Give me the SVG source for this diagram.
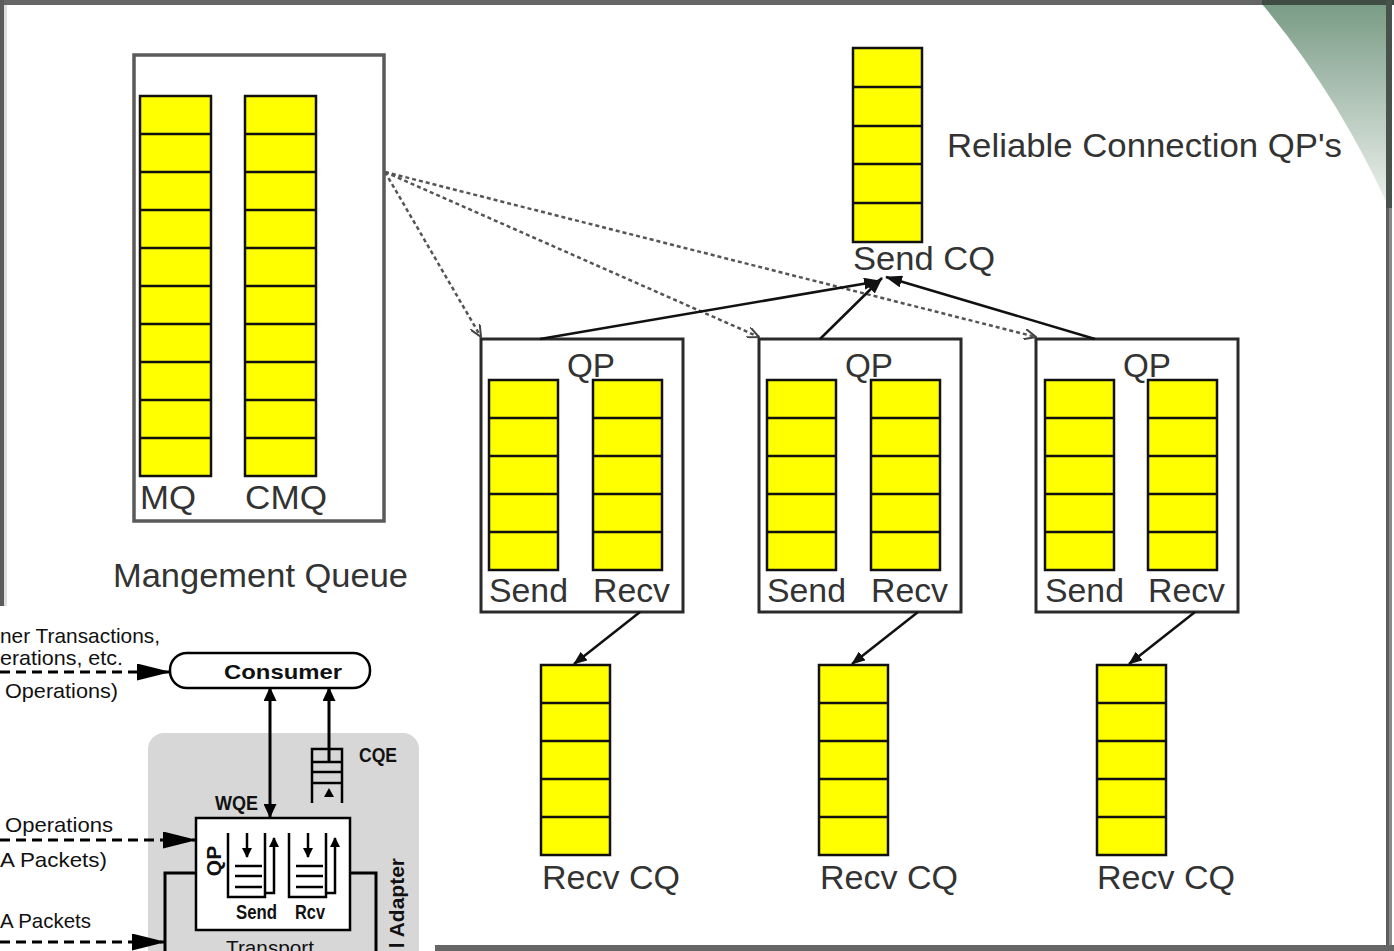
<svg xmlns="http://www.w3.org/2000/svg" width="1394" height="951" viewBox="0 0 1394 951">
<defs>
<style>
.q{fill:#ffff00;stroke:#111;stroke-width:2.5}
.sep{stroke:#111;stroke-width:2.5;fill:none}
.box{fill:#fff;stroke:#2a2a2a;stroke-width:3}
.mbox{fill:#fff;stroke:#5a5a5a;stroke-width:3.5}
.t{font-family:"Liberation Sans",Arial,Helvetica,sans-serif;font-size:34px;fill:#333}
.dash{stroke:#555;stroke-width:2.5;stroke-dasharray:4 3;fill:none}
.solid{stroke:#111;stroke-width:2.5;fill:none}
.it{font-family:"Liberation Sans",Arial,Helvetica,sans-serif;font-size:21px;fill:#111}
.ib{font-weight:bold}
.idash{stroke:#000;stroke-width:3;stroke-dasharray:10 6;fill:none}
.iline{stroke:#000;stroke-width:3;fill:none}
.ithin{stroke:#000;stroke-width:2.5;fill:none}
</style>
<linearGradient id="corner" x1="0" y1="0" x2="0" y2="1">
<stop offset="0" stop-color="#7a9c86"/>
<stop offset="1" stop-color="#eef2ef"/>
</linearGradient>
<marker id="ah" markerUnits="userSpaceOnUse" markerWidth="18" markerHeight="12" refX="16" refY="6" orient="auto"><path d="M0,0 L17,6 L0,12 z" fill="#111"/></marker>
<marker id="ad" markerUnits="userSpaceOnUse" markerWidth="13" markerHeight="11" refX="12" refY="5.5" orient="auto"><path d="M0,0 L12,5.5 L0,11" fill="none" stroke="#444" stroke-width="2"/></marker>
<marker id="ar" markerUnits="userSpaceOnUse" markerWidth="14" markerHeight="11" refX="13" refY="5.5" orient="auto"><path d="M0,0 L14,5.5 L0,11 z" fill="#111"/></marker>
<marker id="big" markerUnits="userSpaceOnUse" markerWidth="34" markerHeight="17" refX="33" refY="8.5" orient="auto"><path d="M0,0 L34,8.5 L0,17 z" fill="#000"/></marker>
<marker id="va" markerUnits="userSpaceOnUse" markerWidth="14" markerHeight="13" refX="13" refY="6.5" orient="auto-start-reverse"><path d="M0,0 L14,6.5 L0,13 z" fill="#000"/></marker>
<marker id="sa" markerUnits="userSpaceOnUse" markerWidth="10" markerHeight="10" refX="9" refY="5" orient="auto"><path d="M0,0 L10,5 L0,10 z" fill="#000"/></marker>
</defs>

<rect x="0" y="0" width="1394" height="951" fill="#fff"/>

<!-- corner decoration -->
<path d="M1262,4 Q1338,95 1389,208 L1389,4 Z" fill="url(#corner)"/>

<!-- frame -->
<rect x="0" y="0" width="1394" height="5" fill="#666"/>
<rect x="1262" y="0" width="132" height="5" fill="#3f4c44"/>
<rect x="0" y="0" width="4" height="606" fill="#5c5c5c"/>
<rect x="4" y="5" width="3" height="601" fill="#dedede"/>
<rect x="1386" y="0" width="6" height="951" fill="#8a8a8a"/>
<rect x="1386" y="0" width="3" height="951" fill="#5e5e5e"/>
<rect x="1386" y="0" width="6" height="208" fill="#46524b"/>
<rect x="435" y="945" width="959" height="6" fill="#666"/>

<!-- Management queue -->
<g id="mgmt-queue">
<rect class="mbox" x="134" y="55" width="250" height="466"/>
<rect class="q" x="140" y="96" width="71" height="380"/>
<path class="sep" d="M140,134H211M140,172H211M140,210H211M140,248H211M140,286H211M140,324H211M140,362H211M140,400H211M140,438H211"/>
<rect class="q" x="245" y="96" width="71" height="380"/>
<path class="sep" d="M245,134H316M245,172H316M245,210H316M245,248H316M245,286H316M245,324H316M245,362H316M245,400H316M245,438H316"/>
<text class="t" x="140" y="509" textLength="56" lengthAdjust="spacingAndGlyphs">MQ</text>
<text class="t" x="245" y="509" textLength="82" lengthAdjust="spacingAndGlyphs">CMQ</text>
</g>
<text id="mgmt-label" class="t" x="113" y="587" textLength="295" lengthAdjust="spacingAndGlyphs">Mangement Queue</text>

<!-- Send CQ -->
<g id="send-cq">
<rect class="q" x="853" y="48" width="69" height="194"/>
<path class="sep" d="M853,87H922M853,126H922M853,164H922M853,203H922"/>
<text class="t" x="853" y="270" textLength="142" lengthAdjust="spacingAndGlyphs">Send CQ</text>
</g>
<text id="rc-label" class="t" x="947" y="157" textLength="395" lengthAdjust="spacingAndGlyphs">Reliable Connection QP's</text>

<!-- QP boxes -->
<g id="qp1">
<rect class="box" x="481" y="339" width="202" height="273"/>
<text class="t" x="567" y="377" textLength="48" lengthAdjust="spacingAndGlyphs">QP</text>
<rect class="q" x="489" y="380" width="69" height="190"/>
<path class="sep" d="M489,418H558M489,456H558M489,494H558M489,532H558"/>
<rect class="q" x="593" y="380" width="69" height="190"/>
<path class="sep" d="M593,418H662M593,456H662M593,494H662M593,532H662"/>
<text class="t" x="489" y="602" textLength="79" lengthAdjust="spacingAndGlyphs">Send</text>
<text class="t" x="593" y="602" textLength="77" lengthAdjust="spacingAndGlyphs">Recv</text>
</g>
<g id="qp2">
<rect class="box" x="759" y="339" width="202" height="273"/>
<text class="t" x="845" y="377" textLength="48" lengthAdjust="spacingAndGlyphs">QP</text>
<rect class="q" x="767" y="380" width="69" height="190"/>
<path class="sep" d="M767,418H836M767,456H836M767,494H836M767,532H836"/>
<rect class="q" x="871" y="380" width="69" height="190"/>
<path class="sep" d="M871,418H940M871,456H940M871,494H940M871,532H940"/>
<text class="t" x="767" y="602" textLength="79" lengthAdjust="spacingAndGlyphs">Send</text>
<text class="t" x="871" y="602" textLength="77" lengthAdjust="spacingAndGlyphs">Recv</text>
</g>
<g id="qp3">
<rect class="box" x="1036" y="339" width="202" height="273"/>
<text class="t" x="1123" y="377" textLength="48" lengthAdjust="spacingAndGlyphs">QP</text>
<rect class="q" x="1045" y="380" width="69" height="190"/>
<path class="sep" d="M1045,418H1114M1045,456H1114M1045,494H1114M1045,532H1114"/>
<rect class="q" x="1148" y="380" width="69" height="190"/>
<path class="sep" d="M1148,418H1217M1148,456H1217M1148,494H1217M1148,532H1217"/>
<text class="t" x="1045" y="602" textLength="79" lengthAdjust="spacingAndGlyphs">Send</text>
<text class="t" x="1148" y="602" textLength="77" lengthAdjust="spacingAndGlyphs">Recv</text>
</g>

<!-- Recv CQs -->
<g id="recv-cq1">
<rect class="q" x="541" y="665" width="69" height="190"/>
<path class="sep" d="M541,703H610M541,741H610M541,779H610M541,817H610"/>
<text class="t" x="542" y="889" textLength="138" lengthAdjust="spacingAndGlyphs">Recv CQ</text>
</g>
<g id="recv-cq2">
<rect class="q" x="819" y="665" width="69" height="190"/>
<path class="sep" d="M819,703H888M819,741H888M819,779H888M819,817H888"/>
<text class="t" x="820" y="889" textLength="138" lengthAdjust="spacingAndGlyphs">Recv CQ</text>
</g>
<g id="recv-cq3">
<rect class="q" x="1097" y="665" width="69" height="190"/>
<path class="sep" d="M1097,703H1166M1097,741H1166M1097,779H1166M1097,817H1166"/>
<text class="t" x="1097" y="889" textLength="138" lengthAdjust="spacingAndGlyphs">Recv CQ</text>
</g>

<!-- connectors -->
<g id="connectors">
<line class="dash" x1="385" y1="172" x2="481" y2="337" marker-end="url(#ad)"/>
<line class="dash" x1="385" y1="172" x2="759" y2="337" marker-end="url(#ad)"/>
<line class="dash" x1="385" y1="172" x2="1036" y2="337" marker-end="url(#ad)"/>
<line class="solid" x1="540" y1="339" x2="880" y2="281" marker-end="url(#ah)"/>
<line class="solid" x1="820" y1="339" x2="882" y2="278" marker-end="url(#ah)"/>
<line class="solid" x1="1095" y1="339" x2="886" y2="277" marker-end="url(#ah)"/>
<line class="solid" x1="640" y1="612" x2="574" y2="664" marker-end="url(#ar)"/>
<line class="solid" x1="918" y1="612" x2="852" y2="664" marker-end="url(#ar)"/>
<line class="solid" x1="1195" y1="612" x2="1129" y2="664" marker-end="url(#ar)"/>
</g>

<!-- inset figure -->
<g id="inset">
<rect x="0" y="606" width="435" height="345" fill="#fff"/>
<rect x="148" y="733" width="271" height="240" rx="16" fill="#d7d7d7"/>
<text class="it" x="0" y="643" textLength="160" lengthAdjust="spacingAndGlyphs">ner Transactions,</text>
<text class="it" x="0" y="665" textLength="123" lengthAdjust="spacingAndGlyphs">erations, etc.</text>
<text class="it" x="5" y="698" textLength="113" lengthAdjust="spacingAndGlyphs">Operations)</text>
<text class="it" x="5" y="832" textLength="108" lengthAdjust="spacingAndGlyphs">Operations</text>
<text class="it" x="0" y="867" textLength="107" lengthAdjust="spacingAndGlyphs">A Packets)</text>
<text class="it" x="0" y="928" textLength="91" lengthAdjust="spacingAndGlyphs">A Packets</text>
<line class="idash" x1="0" y1="672" x2="170" y2="672" marker-end="url(#big)"/>
<line class="idash" x1="0" y1="840" x2="196" y2="840" marker-end="url(#big)"/>
<line class="idash" x1="0" y1="942" x2="165" y2="942" marker-end="url(#big)"/>
<g id="consumer">
<rect x="170" y="653" width="200" height="35" rx="17" fill="#fff" stroke="#000" stroke-width="2.5"/>
<text class="it ib" x="224" y="679" font-size="23" textLength="118" lengthAdjust="spacingAndGlyphs">Consumer</text>
</g>
<line class="iline" x1="270" y1="688" x2="270" y2="817" marker-start="url(#va)" marker-end="url(#va)"/>
<line class="iline" x1="329" y1="762" x2="329" y2="688" marker-end="url(#va)"/>
<g id="cqe">
<path class="ithin" d="M312,803V749H342V803M312,762H342M312,772H342M312,783H342"/>
<path d="M329,788 L334,797 L324,797 z" fill="#000"/>
<text class="it ib" x="359" y="762" font-size="16" textLength="38" lengthAdjust="spacingAndGlyphs" fill="#333">CQE</text>
</g>
<text class="it ib" x="215" y="810" font-size="16" textLength="43" lengthAdjust="spacingAndGlyphs" fill="#333">WQE</text>
<path class="iline" d="M165,951V873H196M350,873H376V951"/>
<text class="it" x="226" y="955" font-size="17" textLength="88" lengthAdjust="spacingAndGlyphs">Transport</text>
<g id="inset-qp">
<rect x="196" y="818" width="154" height="112" fill="#fff" stroke="#000" stroke-width="2.5"/>
<text class="it ib" transform="translate(221,861) rotate(-90)" x="0" y="0" font-size="22" text-anchor="middle">QP</text>
<path class="ithin" d="M228,833V897H265V833"/>
<path class="ithin" d="M265,893H274V838" marker-end="url(#sa)"/>
<line class="ithin" x1="247" y1="833" x2="247" y2="857" marker-end="url(#sa)"/>
<path class="ithin" d="M235,866H262M235,876H262M235,887H262"/>
<path class="ithin" d="M289,833V897H326V833"/>
<path class="ithin" d="M326,893H335V838" marker-end="url(#sa)"/>
<line class="ithin" x1="308" y1="833" x2="308" y2="857" marker-end="url(#sa)"/>
<path class="ithin" d="M296,866H323M296,876H323M296,887H323"/>
<text class="it ib" x="236" y="919" font-size="15" textLength="41" lengthAdjust="spacingAndGlyphs" fill="#222">Send</text>
<text class="it ib" x="295" y="919" font-size="15" textLength="30" lengthAdjust="spacingAndGlyphs" fill="#222">Rcv</text>
</g>
<text class="it ib" transform="translate(404,951) rotate(-90)" x="93" y="0" font-size="21" text-anchor="end" fill="#222">l Adapter</text>
</g>
</svg>
